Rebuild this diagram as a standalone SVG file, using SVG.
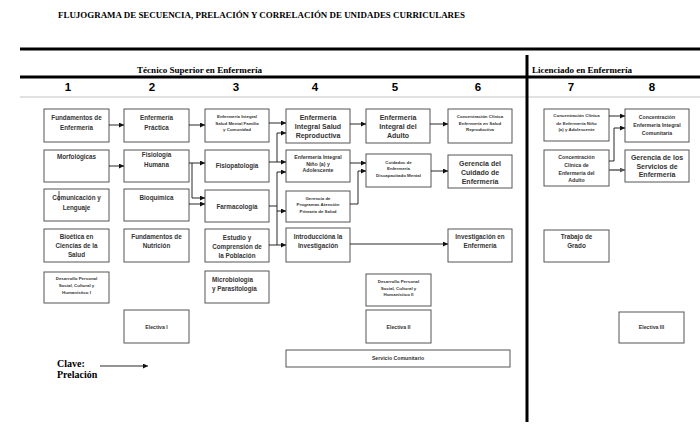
<svg xmlns="http://www.w3.org/2000/svg" width="700" height="430" viewBox="0 0 700 430">
<defs>
<marker id="ah" markerUnits="userSpaceOnUse" markerWidth="6" markerHeight="6" refX="5" refY="2.5" orient="auto"><path d="M0,0 L5,2.5 L0,5 z" fill="#111"/></marker>
<marker id="ahg" markerUnits="userSpaceOnUse" markerWidth="6" markerHeight="6" refX="5" refY="2.5" orient="auto"><path d="M0,0 L5,2.5 L0,5 z" fill="#555"/></marker>
</defs>
<style>
.bx{fill:#fff;stroke:#555;stroke-width:1}
.t{font-family:"Liberation Sans",Arial,sans-serif;font-weight:bold;fill:#333;text-anchor:middle}
.l{text-anchor:start}
.s7{font-size:7px}
.s6{font-size:6.3px}
.s5{font-size:5.2px}
.s4{font-size:4.4px}
.hd{font-family:"Liberation Serif","Times New Roman",serif;font-weight:bold;fill:#000;font-size:9px}
.num{font-family:"Liberation Sans",Arial,sans-serif;font-weight:bold;fill:#000;font-size:11.5px;text-anchor:middle}
.rule{stroke:#000;stroke-width:3}
.cn{fill:none;stroke:#111;stroke-width:0.9;marker-end:url(#ah)}
.cp{fill:none;stroke:#111;stroke-width:0.9}
</style>
<rect width="700" height="430" fill="#fff"/>
<g id="header">
<text class="hd" x="58" y="18" textLength="407" lengthAdjust="spacingAndGlyphs">FLUJOGRAMA DE SECUENCIA, PRELACIÓN  Y CORRELACIÓN  DE UNIDADES  CURRICULARES</text>
<line class="rule" x1="20" y1="49" x2="700" y2="49"/>
<line class="rule" x1="20" y1="77" x2="700" y2="77"/>
<line x1="20" y1="97" x2="700" y2="97" stroke="#aaa" stroke-width="0.7"/>
<line class="rule" x1="527" y1="55" x2="527" y2="422"/>
<text class="hd" x="137" y="73" textLength="125" lengthAdjust="spacingAndGlyphs">Técnico Superior en Enfermería</text>
<text class="hd" x="532" y="73" textLength="100" lengthAdjust="spacingAndGlyphs">Licenciado en Enfermería</text>
<text class="num" x="68" y="91">1</text>
<text class="num" x="152" y="91">2</text>
<text class="num" x="236" y="91">3</text>
<text class="num" x="315" y="91">4</text>
<text class="num" x="395" y="91">5</text>
<text class="num" x="478" y="91">6</text>
<text class="num" x="571" y="91">7</text>
<text class="num" x="652" y="91">8</text>
</g>
<!-- Column 1 -->
<g id="fundamentos-enfermeria"><rect class="bx" x="44" y="109" width="65" height="33"/><text class="t s6"><tspan x="76.5" y="120">Fundamentos de</tspan><tspan x="76.5" y="129.5">Enfermería</tspan></text></g>
<g id="morfologicas"><rect class="bx" x="44" y="150" width="65" height="32"/><text class="t s6" x="76.5" y="159">Morfológicas</text></g>
<g id="comunicacion"><rect class="bx" x="44" y="189" width="65" height="32"/><text class="t s6"><tspan x="76.5" y="200">Comunicación y</tspan><tspan x="76.5" y="210">Lenguaje</tspan></text><line x1="59" y1="191" x2="59" y2="201" stroke="#222" stroke-width="0.8"/></g>
<g id="bioetica"><rect class="bx" x="44" y="229" width="65" height="33"/><text class="t s6"><tspan x="76.5" y="239">Bioética en</tspan><tspan x="76.5" y="248">Ciencias de la</tspan><tspan x="76.5" y="257">Salud</tspan></text></g>
<g id="desarrollo-1"><rect class="bx" x="44" y="272" width="65" height="31"/><text class="t s4"><tspan x="76.5" y="280">Desarrollo Personal</tspan><tspan x="76.5" y="287">Social, Cultural y</tspan><tspan x="76.5" y="294">Humanístico   I</tspan></text></g>
<!-- Column 2 -->
<g id="enfermeria-practica"><rect class="bx" x="124" y="109" width="65" height="33"/><text class="t s6"><tspan x="156.5" y="120">Enfermería</tspan><tspan x="156.5" y="129.5">Práctica</tspan></text></g>
<g id="fisiologia-humana"><rect class="bx" x="124" y="150" width="65" height="32"/><text class="t s6"><tspan x="156.5" y="157">Fisiología</tspan><tspan x="156.5" y="167">Humana</tspan></text></g>
<g id="bioquimica"><rect class="bx" x="124" y="189" width="65" height="32"/><text class="t s6" x="156.5" y="200">Bioquímica</text></g>
<g id="fundamentos-nutricion"><rect class="bx" x="124" y="229" width="65" height="33"/><text class="t s6"><tspan x="156.5" y="239">Fundamentos de</tspan><tspan x="156.5" y="248">Nutrición</tspan></text></g>
<g id="electiva-1"><rect class="bx" x="124" y="310" width="65" height="33"/><text class="t s5" x="156.5" y="329">Electiva I</text></g>
<!-- Column 3 -->
<g id="enf-integral-salud-mental"><rect class="bx" x="205" y="109" width="64" height="33"/><text class="t s4"><tspan x="237" y="117.5">Enfermería Integral</tspan><tspan x="237" y="124.5">Salud Mental  Familia</tspan><tspan x="237" y="131">y Comunidad</tspan></text></g>
<g id="fisiopatologia"><rect class="bx" x="205" y="150" width="64" height="32"/><text class="t s6" x="237" y="168">Fisiopatología</text></g>
<g id="farmacologia"><rect class="bx" x="205" y="190" width="64" height="32"/><text class="t s6" x="237" y="209">Farmacología</text></g>
<g id="estudio-poblacion"><rect class="bx" x="205" y="229" width="64" height="33"/><text class="t s6"><tspan x="237" y="240">Estudio y</tspan><tspan x="237" y="249">Comprensión  de</tspan><tspan x="237" y="258">la Población</tspan></text></g>
<g id="microbiologia"><rect class="bx" x="205" y="271" width="64" height="32"/><text class="t s6 l"><tspan x="212" y="282">Microbiología</tspan><tspan x="212" y="290.5">y Parasitología</tspan></text></g>
<!-- Column 4 -->
<g id="enf-integral-reproductiva"><rect class="bx" x="286" y="109" width="64" height="34"/><text class="t s7"><tspan x="318" y="119.5">Enfermería</tspan><tspan x="318" y="128.5">Integral Salud</tspan><tspan x="318" y="137.5">Reproductiva</tspan></text></g>
<g id="enf-integral-nino"><rect class="bx" x="286" y="150" width="64" height="32"/><text class="t s5"><tspan x="318" y="159">Enfermería  Integral</tspan><tspan x="318" y="165.5">Niño (a) y</tspan><tspan x="318" y="172">Adolescente</tspan></text></g>
<g id="gerencia-programas"><rect class="bx" x="286" y="191" width="64" height="31"/><text class="t s4"><tspan x="318" y="199.5">Gerencia de</tspan><tspan x="318" y="205.5">Programas Atención</tspan><tspan x="318" y="212.5">Primaria de Salud</tspan></text></g>
<g id="introduccion-investigacion"><rect class="bx" x="286" y="228" width="64" height="34"/><text class="t s6"><tspan x="318" y="239">Introduccióna la</tspan><tspan x="318" y="248">Investigación</tspan></text></g>
<g id="servicio-comunitario"><rect class="bx" x="286" y="350" width="224" height="17"/><text class="t s5" x="398" y="360">Servicio Comunitario</text></g>
<!-- Column 5 -->
<g id="enf-integral-adulto"><rect class="bx" x="366" y="109" width="64" height="34"/><text class="t s7"><tspan x="398" y="119.5">Enfermería</tspan><tspan x="398" y="128.5">Integral del</tspan><tspan x="398" y="137.5">Adulto</tspan></text></g>
<g id="cuidados-discapacitado"><rect class="bx" x="366" y="154" width="65" height="33"/><text class="t s4"><tspan x="398.5" y="163.5">Cuidados de</tspan><tspan x="398.5" y="169.5">Enfermería</tspan><tspan x="398.5" y="176.5">Discapacitado Mental</tspan></text></g>
<g id="desarrollo-2"><rect class="bx" x="366" y="274" width="65" height="32"/><text class="t s4"><tspan x="398.5" y="282.5">Desarrollo Personal</tspan><tspan x="398.5" y="289.5">Social, Cultural y</tspan><tspan x="398.5" y="296">Humanístico  II</tspan></text></g>
<g id="electiva-2"><rect class="bx" x="366" y="310" width="65" height="33"/><text class="t s5" x="398.5" y="329">Electiva II</text></g>
<!-- Column 6 -->
<g id="conc-clinica-reproductiva"><rect class="bx" x="448" y="109" width="64" height="34"/><text class="t s4"><tspan x="480" y="117.5">Concentración  Clínica</tspan><tspan x="480" y="124.5">Enfermería en Salud</tspan><tspan x="480" y="131">Reproductiva</tspan></text></g>
<g id="gerencia-cuidado"><rect class="bx" x="448" y="155" width="64" height="33"/><text class="t s7"><tspan x="480" y="165.5">Gerencia del</tspan><tspan x="480" y="174.5">Cuidado de</tspan><tspan x="480" y="183.5">Enfermería</tspan></text></g>
<g id="investigacion-enfermeria"><rect class="bx" x="448" y="229" width="64" height="33"/><text class="t s6"><tspan x="480" y="239">Investigación en</tspan><tspan x="480" y="248">Enfermería</tspan></text></g>
<!-- Column 7 -->
<g id="conc-clinica-nino"><rect class="bx" x="544" y="109" width="65" height="32"/><text class="t s4"><tspan x="576.5" y="116.5">Concentración  Clínica</tspan><tspan x="576.5" y="124.5">de Enfermería  Niño</tspan><tspan x="576.5" y="131">(a)  y Adolescente</tspan></text></g>
<g id="conc-clinica-adulto"><rect class="bx" x="544" y="150" width="65" height="36"/><text class="t s5"><tspan x="576.5" y="158.5">Concentración</tspan><tspan x="576.5" y="167">Clínica de</tspan><tspan x="576.5" y="174.5">Enfermería del</tspan><tspan x="576.5" y="181.5">Adulto</tspan></text></g>
<g id="trabajo-grado"><rect class="bx" x="544" y="230" width="65" height="32"/><text class="t s6"><tspan x="576.5" y="239">Trabajo de</tspan><tspan x="576.5" y="248">Grado</tspan></text></g>
<!-- Column 8 -->
<g id="conc-enf-comunitaria"><rect class="bx" x="625" y="109" width="64" height="33"/><text class="t s5"><tspan x="657" y="119">Concentración</tspan><tspan x="657" y="127">Enfermería  Integral</tspan><tspan x="657" y="134.5">Comunitaria</tspan></text></g>
<g id="gerencia-servicios"><rect class="bx" x="625" y="150" width="64" height="32"/><text class="t s7"><tspan x="657" y="159.5">Gerencia de los</tspan><tspan x="657" y="168.5">Servicios de</tspan><tspan x="657" y="177">Enfermería</tspan></text></g>
<g id="electiva-3"><rect class="bx" x="619" y="312" width="65" height="31"/><text class="t s5" x="651.5" y="329">Electiva III</text></g>
<!-- Key -->
<g id="clave">
<text class="hd" style="font-size:10px"><tspan x="57" y="367">Clave:</tspan><tspan x="57" y="378">Prelación</tspan></text>
<line class="cn" x1="100" y1="366" x2="148" y2="366"/>
</g>
<g id="connectors">
<path class="cn" d="M109,125 H124"/>
<path class="cn" d="M109,166 H124"/>
<path class="cn" d="M189,125 H205"/>
<path class="cn" d="M189,163 H205"/>
<path class="cn" d="M192,163 V198 H205"/>
<path class="cn" d="M189,204 H205"/>
<path class="cn" d="M269,123 H286"/>
<path class="cn" d="M269,162 H286"/>
<path class="cn" d="M277,162 V133 H286"/>
<path class="cn" d="M269,206 H277 V172 H286"/>
<path class="cn" d="M277,206 V211 H286"/>
<path class="cn" d="M269,245 H286"/>
<path class="cp" d="M277,245 V211"/>
<path class="cn" d="M350,124 H366"/>
<path class="cn" d="M350,163 H366"/>
<path class="cn" d="M350,204 H358 V171 H366"/>
<path class="cn" d="M430,124 H448"/>
<path class="cn" d="M431,171 H448"/>
<path class="cn" d="M350,244 H448"/>
<path class="cn" d="M609,116 H625"/>
<path class="cn" d="M609,161 H614 V128 H625"/>
<path d="M609,170 H625" fill="none" stroke="#666" stroke-width="1.6" marker-end="url(#ahg)"/>
</g>
</svg>
